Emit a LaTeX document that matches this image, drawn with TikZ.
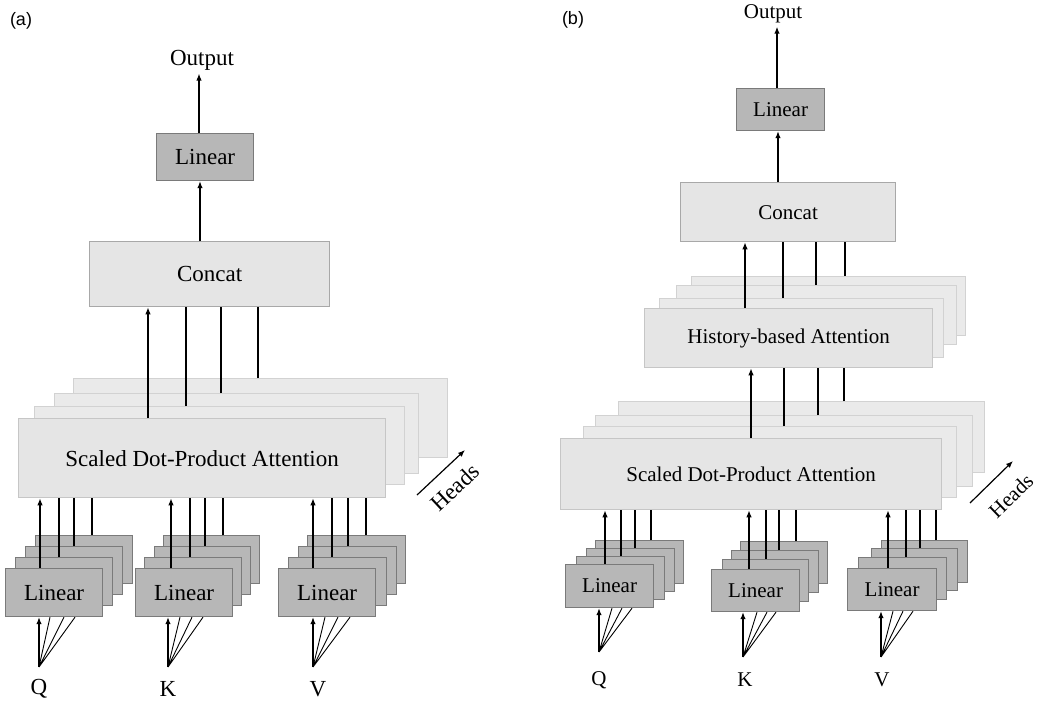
\documentclass[tikz,border=0pt]{standalone}
\usepackage{fontspec}
\setmainfont{Liberation Serif}
\newfontfamily\labfont{Liberation Sans}
\usetikzlibrary{arrows.meta}
\definecolor{lfill}{HTML}{E5E5E5}
\definecolor{lfillb}{HTML}{EAEAEA}
\definecolor{ldraw}{HTML}{C6C6C6}
\definecolor{ldrawb}{HTML}{D2D2D2}
\definecolor{cdraw}{HTML}{A8A8A8}
\definecolor{dfill}{HTML}{B7B7B7}
\definecolor{ddraw}{HTML}{7A7A7A}
\newcommand\bx[7]{\node[#1, anchor=north west, minimum width={#5-#3}, minimum height={#6-#4}] (#2) at (#3,#4) {#7};}
\newcommand\vc[4]{\coordinate (vx) at (#1,0); \draw[#4] (#2.north -| vx) -- (#3.south -| vx);}
\begin{document}
\begin{tikzpicture}[x=1pt,y=-1pt,
  lbox/.style={draw=ldraw, fill=lfill, line width=1.3pt, inner sep=0pt},
  lboxb/.style={draw=ldrawb, fill=lfillb, line width=1.3pt, inner sep=0pt},
  cbox/.style={draw=cdraw, fill=lfill, line width=1.3pt, inner sep=0pt},
  dbox/.style={draw=ddraw, fill=dfill, line width=1.2pt, inner sep=0pt},
  arr/.style={-{Latex[length=7pt,width=5.5pt]}, line width=1.2pt, black},
  ln/.style={line width=1.2pt, black},
  fanl/.style={line width=0.9pt, black},
  fa/.style={font=\fontsize{23}{26}\selectfont},
  fb/.style={font=\fontsize{21}{24}\selectfont}]
\useasboundingbox (0,0) rectangle (1037,702);

% ================= (a) =================
\node[font=\labfont\fontsize{18}{20}\selectfont] (la) at (21,21) {(a)};
\node[fa] (outA) at (202,60) {Output};
\bx{dbox,fa}{linA}{156}{133}{253}{180}{Linear}
\bx{cbox,fa}{catA}{89}{241}{329}{306}{Concat}
\vc{200}{catA}{linA}{arr}
\vc{199}{linA}{outA}{arr}

% SDPA stack (a)
\bx{lboxb}{sA4}{73}{378}{447}{457}{}
\vc{258}{sA4}{catA}{ln}
\bx{lboxb}{sA3}{54}{393}{418}{473}{}
\vc{221}{sA3}{catA}{ln}
\bx{lboxb}{sA2}{34}{406}{404}{484}{}
\vc{186}{sA2}{catA}{ln}
\bx{lbox,fa}{sA1}{18}{418}{385}{497}{Scaled Dot-Product Attention}
\vc{148}{sA1}{catA}{arr}

% Heads (a)
\coordinate (hA1) at (417,495);
\coordinate (hA2) at (465,450);
\draw[arr] (hA1) -- (hA2);
\node[fa, rotate=43, inner sep=0pt] (headsA) at (455,487) {Heads};

% Linear stacks (a)
% Q
\bx{dbox}{qA4}{35}{535}{132}{583}{}
\vc{92}{qA4}{sA1}{ln}
\bx{dbox}{qA3}{25}{546}{122}{594}{}
\vc{74}{qA3}{sA1}{ln}
\bx{dbox}{qA2}{15}{557}{112}{605}{}
\vc{59}{qA2}{sA1}{ln}
\bx{dbox,fa}{qA1}{5}{568}{102}{616}{Linear}
\vc{40}{qA1}{sA1}{arr}
% K
\bx{dbox}{kA4}{163}{535}{259}{583}{}
\vc{223}{kA4}{sA1}{ln}
\bx{dbox}{kA3}{154}{546}{250}{594}{}
\vc{205}{kA3}{sA1}{ln}
\bx{dbox}{kA2}{144}{557}{241}{605}{}
\vc{190}{kA2}{sA1}{ln}
\bx{dbox,fa}{kA1}{135}{568}{232}{616}{Linear}
\vc{171}{kA1}{sA1}{arr}
% V
\bx{dbox}{vA4}{307}{535}{405}{583}{}
\vc{366}{vA4}{sA1}{ln}
\bx{dbox}{vA3}{298}{546}{396}{594}{}
\vc{348}{vA3}{sA1}{ln}
\bx{dbox}{vA2}{288}{557}{386}{605}{}
\vc{332}{vA2}{sA1}{ln}
\bx{dbox,fa}{vA1}{278}{568}{375}{616}{Linear}
\vc{313}{vA1}{sA1}{arr}

% inputs (a)
\coordinate (pQa) at (39,667);
\coordinate (pKa) at (168,667);
\coordinate (pVa) at (313,667);
\node[fa] (tQa) at (39,689) {Q};
\node[fa] (tKa) at (168,689) {K};
\node[fa] (tVa) at (318,689) {V};
\draw[arr] (pQa) -- (pQa |- qA1.south);
\draw[fanl] (pQa) -- ([xshift=45pt]qA1.south west) (pQa) -- ([xshift=59pt]qA1.south west) (pQa) -- ([xshift=70pt]qA1.south west);
\draw[arr] (pKa) -- (pKa |- kA1.south);
\draw[fanl] (pKa) -- ([xshift=45pt]kA1.south west) (pKa) -- ([xshift=57pt]kA1.south west) (pKa) -- ([xshift=68pt]kA1.south west);
\draw[arr] (pVa) -- (pVa |- vA1.south);
\draw[fanl] (pVa) -- ([xshift=47pt]vA1.south west) (pVa) -- ([xshift=60pt]vA1.south west) (pVa) -- ([xshift=72pt]vA1.south west);

% ================= (b) =================
\node[font=\labfont\fontsize{18}{20}\selectfont] (lb) at (573,20) {(b)};
\node[fb] (outB) at (773,14) {Output};
\bx{dbox,fb}{linB}{736}{88}{824}{130}{Linear}
\bx{cbox,fb}{catB}{680}{182}{895}{241}{Concat}
\vc{778}{catB}{linB}{arr}
\vc{777}{linB}{outB}{arr}

% HBA stack
\bx{lboxb}{hB4}{691}{276}{965}{335}{}
\vc{845}{hB4}{catB}{ln}
\bx{lboxb}{hB3}{676}{285}{956}{344}{}
\vc{816}{hB3}{catB}{ln}
\bx{lboxb}{hB2}{659}{298}{943}{357}{}
\vc{783}{hB2}{catB}{ln}
\bx{lbox,fb}{hB1}{644}{308}{932}{367}{History-based Attention}
\vc{745}{hB1}{catB}{arr}

% SDPA stack (b)
\bx{lboxb}{sB4}{618}{401}{984}{472}{}
\vc{844}{sB4}{hB1}{ln}
\bx{lboxb}{sB3}{595}{415}{972}{486}{}
\vc{818}{sB3}{hB1}{ln}
\bx{lboxb}{sB2}{583}{426}{956}{497}{}
\vc{784}{sB2}{hB1}{ln}
\bx{lbox,fb}{sB1}{560}{438}{941}{509}{Scaled Dot-Product Attention}
\vc{751}{sB1}{hB1}{arr}

% Heads (b)
\coordinate (hB1a) at (970,503);
\coordinate (hB2a) at (1013,461);
\draw[arr] (hB1a) -- (hB2a);
\node[fb, rotate=44, inner sep=0pt] (headsB) at (1011,496) {Heads};

% Linear stacks (b)
% Q
\bx{dbox}{qB4}{595}{540}{683}{583}{}
\vc{651}{qB4}{sB1}{ln}
\bx{dbox}{qB3}{586}{548}{674}{591}{}
\vc{635}{qB3}{sB1}{ln}
\bx{dbox}{qB2}{576}{556}{664}{599}{}
\vc{621}{qB2}{sB1}{ln}
\bx{dbox,fb}{qB1}{565}{564}{653}{607}{Linear}
\vc{605}{qB1}{sB1}{arr}
% K
\bx{dbox}{kB4}{740}{541}{827}{583}{}
\vc{796}{kB4}{sB1}{ln}
\bx{dbox}{kB3}{731}{550}{818}{592}{}
\vc{779}{kB3}{sB1}{ln}
\bx{dbox}{kB2}{722}{559}{808}{601}{}
\vc{766}{kB2}{sB1}{ln}
\bx{dbox,fb}{kB1}{711}{569}{799}{611}{Linear}
\vc{749}{kB1}{sB1}{arr}
% V
\bx{dbox}{vB4}{881}{540}{967}{582}{}
\vc{936}{vB4}{sB1}{ln}
\bx{dbox}{vB3}{871}{548}{957}{590}{}
\vc{920}{vB3}{sB1}{ln}
\bx{dbox}{vB2}{858}{557}{946}{599}{}
\vc{906}{vB2}{sB1}{ln}
\bx{dbox,fb}{vB1}{847}{568}{936}{610}{Linear}
\vc{888}{vB1}{sB1}{arr}

% inputs (b)
\coordinate (pQb) at (599,652);
\coordinate (pKb) at (743,657);
\coordinate (pVb) at (881,657);
\node[fb] (tQb) at (599,680) {Q};
\node[fb] (tKb) at (745,680) {K};
\node[fb] (tVb) at (882,680) {V};
\draw[arr] (pQb) -- (pQb |- qB1.south);
\draw[fanl] (pQb) -- ([xshift=47pt]qB1.south west) (pQb) -- ([xshift=57pt]qB1.south west) (pQb) -- ([xshift=67pt]qB1.south west);
\draw[arr] (pKb) -- (pKb |- kB1.south);
\draw[fanl] (pKb) -- ([xshift=46pt]kB1.south west) (pKb) -- ([xshift=56pt]kB1.south west) (pKb) -- ([xshift=65pt]kB1.south west);
\draw[arr] (pVb) -- (pVb |- vB1.south);
\draw[fanl] (pVb) -- ([xshift=46pt]vB1.south west) (pVb) -- ([xshift=56pt]vB1.south west) (pVb) -- ([xshift=66pt]vB1.south west);
\end{tikzpicture}
\end{document}
